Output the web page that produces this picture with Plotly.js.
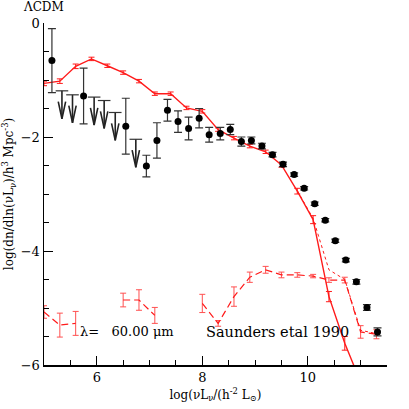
<!DOCTYPE html>
<html>
<head>
<meta charset="utf-8">
<script src="https://cdn.plot.ly/plotly-3.0.1.min.js"></script>
<style>
  html, body { margin: 0; padding: 0; background: #fff; }
  #plot { width: 409px; height: 409px; }
</style>
</head>
<body>
<div id="plot"></div>
<script>
/////
///// Data
/////

// observed counts (filled circles)
let obsX = [5.15, 5.75, 6.55, 6.94, 7.14, 7.34, 7.54, 7.74, 7.94, 8.13, 8.34, 8.53, 8.74,
            8.93, 9.13, 9.33, 9.53, 9.74, 9.93, 10.13, 10.33, 10.52, 10.72, 10.92, 11.12, 11.32];
let obsY = [-0.66, -1.28, -1.81, -2.51, -2.06, -1.53, -1.73, -1.85, -1.67, -1.96, -1.94, -1.87, -2.08,
            -2.06, -2.16, -2.31, -2.48, -2.66, -2.90, -3.17, -3.46, -3.82, -4.16, -4.54, -4.99, -5.42];
let obsErr = [0.56, 0.49, 0.49, 0.19, 0.31, 0.19, 0.19, 0.20, 0.17, 0.13, 0.11, 0.09, 0.08,
              0.06, 0.05, 0.04, 0.04, 0.03, 0.03, 0.03, 0.03, 0.03, 0.03, 0.04, 0.05, 0.07];

// upper limits (arrows)
let limX = [5.34, 5.54, 5.95, 6.14, 6.35, 6.74];
let limY = [-1.19, -1.26, -1.30, -1.36, -1.57, -2.04];

// model bins
let modelX = [5.0, 5.3, 5.6, 5.9, 6.2, 6.5, 6.8, 7.1, 7.4, 7.7, 8.0,
              8.3, 8.6, 8.9, 9.2, 9.5, 9.8, 10.1, 10.4, 10.7, 11.0, 11.3];

// solid: main population
let solidY = [-1.06, -1.02, -0.76, -0.63, -0.75, -0.87, -1.02, -1.24, -1.24, -1.49, -1.55,
              -1.87, -2.02, -2.16, -2.26, -2.49, -2.95, -3.45, -4.80, -5.62, -6.30, null];
let solidErr = [0.04, 0.04, 0.04, 0.03, 0.03, 0.03, 0.03, 0.03, 0.03, 0.03, 0.03,
                0.03, 0.03, 0.03, 0.03, 0.04, 0.05, 0.07, 0.09, 0.12, 0.15, 0];

// dashed: second population
let dashY = [-5.07, -5.30, -5.27, null, null, -4.86, -4.86, -5.13, null, null, -4.92,
             -5.27, -4.80, -4.46, -4.33, -4.42, -4.42, -4.44, -4.51, -4.51, -5.42, -5.46];
let dashErr = [0.11, 0.21, 0.21, 0, 0, 0.12, 0.18, 0.14, 0, 0, 0.16,
               0.05, 0.17, 0.09, 0.06, 0.05, 0.04, 0.03, 0.04, 0.05, 0.11, 0.08];

// dotted: total
let totX = [9.8, 10.1, 10.4, 10.7, 11.0, 11.3];
let totY = [-2.94, -3.43, -4.33, -4.50, -5.39, -5.45];

/////
///// Arrow paths for the upper limits
/////

let arrowLen = 0.49;
let headLen = 0.30;
let headHalf = 0.07;

let arrowX = [];
let arrowY = [];
for (let i = 0; i < limX.length; i++) {
    let x = limX[i];
    let tip = limY[i] - arrowLen;
    arrowX.push(x, x, null, x - headHalf, x, x + headHalf, null);
    arrowY.push(limY[i], tip, null, tip + headLen, tip, tip + headLen, null);
}

let red = '#ff1a1a';
let serif = 'DejaVu Serif, serif';

let traces = [
    {
        x: modelX, y: dashY,
        mode: 'lines', type: 'scatter',
        line: { color: red, width: 1.2, dash: '7px,4px' },
        error_y: { type: 'data', array: dashErr, color: '#ff5050', thickness: 1, width: 3 },
        connectgaps: false
    },
    {
        x: totX, y: totY,
        mode: 'lines', type: 'scatter',
        line: { color: red, width: 1, dash: 'dot' }
    },
    {
        x: modelX, y: solidY,
        mode: 'lines', type: 'scatter',
        line: { color: red, width: 1.4 },
        error_y: { type: 'data', array: solidErr, color: red, thickness: 1, width: 3 }
    },
    {
        x: arrowX, y: arrowY,
        mode: 'lines', type: 'scatter',
        line: { color: '#222', width: 1.6 }
    },
    {
        x: limX, y: limY,
        mode: 'markers', type: 'scatter',
        marker: { symbol: 'line-ew', size: 9, line: { color: '#333', width: 1.2 } }
    },
    {
        x: obsX, y: obsY,
        mode: 'markers', type: 'scatter',
        marker: { color: 'black', size: 7 },
        error_y: { type: 'data', array: obsErr, color: '#333', thickness: 1.2, width: 4 }
    }
];

let tickStyle = {
    showgrid: false,
    zeroline: false,
    showline: true,
    linecolor: 'black',
    linewidth: 1.5,
    ticks: 'inside',
    ticklen: 9,
    tickwidth: 1,
    tickcolor: 'black',
    tickfont: { family: serif, size: 13, color: 'black' },
    minor: { dtick: 0.5, ticks: 'inside', ticklen: 5, tickcolor: 'black', tickwidth: 1 }
};

let layout = {
    width: 409,
    height: 409,
    margin: { l: 44, r: 22, t: 23, b: 44 },
    paper_bgcolor: 'white',
    plot_bgcolor: 'white',
    showlegend: false,
    font: { family: serif, size: 13, color: 'black' },
    xaxis: Object.assign({}, tickStyle, {
        range: [5, 11.5],
        tickvals: [6, 8, 10],
        title: { text: 'log(νL<sub>ν</sub>/(h<sup>-2</sup> L<sub>⊙</sub>)', font: { family: serif, size: 12 }, standoff: 6 }
    }),
    yaxis: Object.assign({}, tickStyle, {
        range: [-6, 0],
        tickvals: [0, -2, -4, -6],
        title: { text: 'log(dn/dln(νL<sub>ν</sub>)/h<sup>3</sup> Mpc<sup>-3</sup>)', font: { family: serif, size: 12 }, standoff: 6 }
    }),
    // mirrored axes on top and right, so the minor ticks show there too
    xaxis2: Object.assign({}, tickStyle, {
        range: [5, 11.5], tickvals: [6, 8, 10], overlaying: 'x', side: 'top', showticklabels: false
    }),
    yaxis2: Object.assign({}, tickStyle, {
        range: [-6, 0], tickvals: [0, -2, -4, -6], overlaying: 'y', side: 'right', showticklabels: false
    }),
    annotations: [
        {
            text: 'ΛCDM', xref: 'paper', yref: 'paper',
            x: -0.066, y: 1.046, xanchor: 'left', yanchor: 'middle',
            showarrow: false, font: { family: serif, size: 12 }
        },
        {
            text: 'λ=\u00a0\u00a0\u00a060.00\u00a0μm', xref: 'x', yref: 'y',
            x: 5.65, y: -5.42, xanchor: 'left', yanchor: 'middle',
            showarrow: false, font: { family: serif, size: 13 }
        },
        {
            text: 'Saunders\u00a0etal\u00a01990', xref: 'x', yref: 'y',
            x: 8.04, y: -5.42, xanchor: 'left', yanchor: 'middle',
            showarrow: false, font: { family: serif, size: 14.5 }
        }
    ]
};

Plotly.newPlot('plot', traces, layout, { displayModeBar: false, staticPlot: true });
</script>
</body>
</html>
